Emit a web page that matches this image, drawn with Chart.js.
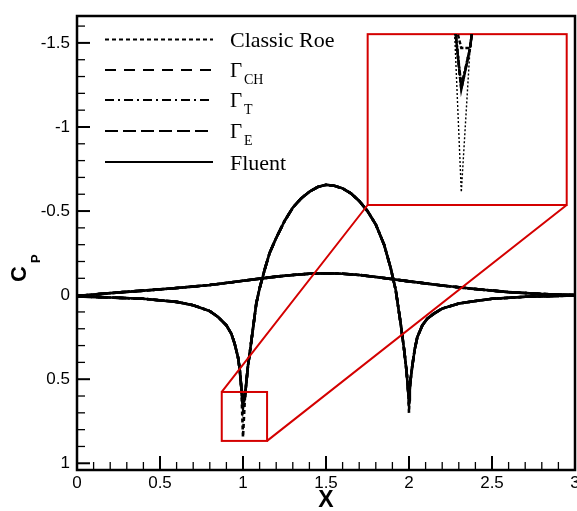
<!DOCTYPE html>
<html>
<head>
<meta charset="utf-8">
<script src="https://cdn.jsdelivr.net/npm/chart.js@4.4.0/dist/chart.umd.min.js"></script>
<style>
  html, body { margin: 0; padding: 0; background: #fff; }
  #wrap { position: relative; width: 577px; height: 511px; }
  #inset { position: absolute; }
</style>
</head>
<body>
<div id="wrap">
  <canvas id="cpChart" width="577" height="511"></canvas>
  <canvas id="inset"></canvas>
</div>
<script>
// schemes (legend name + subscript)
const schemes = ['Classic Roe', 'Γ', 'Γ', 'Γ', 'Fluent'];
const schemeSubs = ['', 'CH', 'T', 'E', ''];

// Cp on the lower curve (small suction bump)
const bumpX = [0, 0.2, 0.4, 0.6, 0.8, 1.0, 1.1, 1.2, 1.3, 1.4, 1.5, 1.6, 1.7, 1.8, 1.9, 2.0, 2.2, 2.4, 2.6, 2.8, 3.0];
const bumpCp = [0.005, -0.012, -0.027, -0.042, -0.06, -0.085, -0.098, -0.11, -0.12, -0.127, -0.13, -0.127, -0.12, -0.108, -0.095, -0.082, -0.057, -0.036, -0.018, -0.007, 0.0];

// Cp on the wall curve
const wallX = [0, 0.2, 0.4, 0.6, 0.7, 0.8, 0.85, 0.9, 0.93, 0.95,
  0.97, 0.98, 0.99, 1.0, 1.012, 1.02, 1.03, 1.04, 1.06, 1.08,
  1.1, 1.13, 1.16, 1.2, 1.25, 1.3, 1.35, 1.4, 1.45, 1.5,
  1.55, 1.6, 1.65, 1.7, 1.75, 1.8, 1.85, 1.89, 1.92, 1.95,
  1.97, 1.985, 1.995, 2.0, 2.005, 2.01, 2.02, 2.035, 2.05, 2.08,
  2.11, 2.15, 2.2, 2.3, 2.4, 2.5, 2.7, 3.0];
const wallCp = [0.008, 0.014, 0.022, 0.04, 0.06, 0.095, 0.13, 0.18, 0.23, 0.29,
  0.37, 0.44, 0.55, 0.67, 0.6, 0.52, 0.42, 0.35, 0.2, 0.05,
  -0.04, -0.15, -0.25, -0.34, -0.44, -0.52, -0.575, -0.615, -0.643, -0.656,
  -0.65, -0.635, -0.605, -0.56, -0.5, -0.42, -0.3, -0.16, -0.03, 0.17,
  0.32, 0.45, 0.57, 0.65, 0.55, 0.5, 0.42, 0.32, 0.25, 0.18,
  0.14, 0.11, 0.08, 0.05, 0.035, 0.022, 0.01, 0.002];

// stagnation spikes at x = 1 and x = 2, one value per scheme
const spikeX = [1.0, 2.0];
const spikeCp1 = [0.845, 0.67, 0.665, 0.67, 0.6];
const spikeCp2 = [0.70, 0.65, 0.65, 0.65, 0.62];

// ticks
const xTicks = [0, 0.5, 1, 1.5, 2, 2.5, 3];
const yTicks = [-1.5, -1, -0.5, 0, 0.5, 1];

// zoom: small window around x = 1 and where it is enlarged (xMin, xMax, cpMin, cpMax)
const zoomFrom = [0.872, 1.145, 0.576, 0.867];
const zoomTo = [1.751, 2.950, -1.552, -0.536];

const dashes = [[4, 3], [11, 8], [9, 4, 2, 4], [13, 5], []];
const RED = '#d40000';

function wallFor(i) {
    return wallX.map((x, k) => {
        let y = wallCp[k];
        if (x === spikeX[0]) y = spikeCp1[i];
        if (x === spikeX[1]) y = spikeCp2[i];
        return { x: x, y: y };
    });
}

function buildDatasets(widths, dashList) {
    const sets = [];
    schemes.forEach((name, i) => {
        const common = {
            borderColor: '#000',
            borderWidth: widths[i],
            borderDash: dashList[i],
            pointRadius: 0,
            tension: 0,
            fill: false
        };
        sets.push(Object.assign({ label: name + schemeSubs[i], data: bumpX.map((x, k) => ({ x: x, y: bumpCp[k] })) }, common));
        sets.push(Object.assign({ label: name + schemeSubs[i], data: wallFor(i) }, common));
    });
    return sets;
}

const isMajor = v => Math.abs(v * 2 - Math.round(v * 2)) < 1e-9;

// frame, ticks, legend, Cp label and zoom boxes
const decor = {
    id: 'decor',
    afterDraw(chart) {
        const ctx = chart.ctx;
        const { left, right, top, bottom } = chart.chartArea;
        const xs = chart.scales.x, ys = chart.scales.y;
        ctx.save();
        ctx.strokeStyle = '#000';

        // minor + major ticks, pointing inward
        for (let k = -16; k <= 10; k++) {
            const v = k / 10;
            const y = ys.getPixelForValue(v);
            ctx.lineWidth = isMajor(v) ? 2 : 1.3;
            ctx.beginPath();
            ctx.moveTo(left, y);
            ctx.lineTo(left + (isMajor(v) ? 13 : 8), y);
            ctx.stroke();
        }
        for (let k = 0; k <= 30; k++) {
            const v = k / 10;
            const x = xs.getPixelForValue(v);
            ctx.lineWidth = isMajor(v) ? 2 : 1.3;
            ctx.beginPath();
            ctx.moveTo(x, bottom);
            ctx.lineTo(x, bottom - (isMajor(v) ? 14 : 8));
            ctx.stroke();
        }

        // frame
        ctx.lineWidth = 2.5;
        ctx.strokeRect(left, top, right - left, bottom - top);

        // legend
        const rowsY = [23.5, 54, 84, 115, 146];
        schemes.forEach((name, i) => {
            const y = top + rowsY[i];
            ctx.lineWidth = 2;
            ctx.setLineDash(dashes[i]);
            ctx.beginPath();
            ctx.moveTo(left + 28, y);
            ctx.lineTo(left + 136, y);
            ctx.stroke();
            ctx.setLineDash([]);
            ctx.fillStyle = '#000';
            ctx.textAlign = 'left';
            ctx.textBaseline = 'alphabetic';
            if (schemeSubs[i]) {
                ctx.font = '21px "Liberation Serif"';
                ctx.fillText(name, left + 153, y + 6.5);
                ctx.font = '14px "Liberation Serif"';
                ctx.fillText(schemeSubs[i], left + 167, y + 14);
            } else {
                ctx.font = '22px "Liberation Serif"';
                ctx.fillText(name, left + 153, y + 7.5);
            }
        });

        // C_P axis title
        ctx.translate(26, 282);
        ctx.rotate(-Math.PI / 2);
        ctx.font = 'bold 22px "Liberation Sans"';
        ctx.fillText('C', 0, 0);
        ctx.font = 'bold 13px "Liberation Sans"';
        ctx.fillText('P', 19, 14);
        ctx.setTransform(1, 0, 0, 1, 0, 0);

        // zoom boxes and connectors
        const sL = xs.getPixelForValue(zoomFrom[0]), sR = xs.getPixelForValue(zoomFrom[1]);
        const sT = ys.getPixelForValue(zoomFrom[2]), sB = ys.getPixelForValue(zoomFrom[3]);
        const bL = xs.getPixelForValue(zoomTo[0]), bR = xs.getPixelForValue(zoomTo[1]);
        const bT = ys.getPixelForValue(zoomTo[2]), bB = ys.getPixelForValue(zoomTo[3]);
        ctx.strokeStyle = RED;
        ctx.lineWidth = 2;
        ctx.strokeRect(sL, sT, sR - sL, sB - sT);
        ctx.strokeRect(bL, bT, bR - bL, bB - bT);
        ctx.beginPath();
        ctx.moveTo(sL, sT); ctx.lineTo(bL, bB);
        ctx.moveTo(sR, sB); ctx.lineTo(bR, bB);
        ctx.stroke();
        ctx.restore();
    }
};

Chart.defaults.font.family = 'Liberation Sans';
Chart.defaults.color = '#000';

const ctx1 = document.getElementById('cpChart').getContext('2d');
const cpChart = new Chart(ctx1, {
    type: 'line',
    data: { datasets: buildDatasets([2.6, 2.6, 2.6, 2.6, 2.6], dashes) },
    options: {
        responsive: false,
        animation: false,
        layout: { padding: { top: 16, right: 2, left: 0, bottom: 0 } },
        scales: {
            x: {
                type: 'linear',
                min: 0,
                max: 3,
                grid: { display: false, drawTicks: false },
                border: { display: false },
                afterBuildTicks: s => { s.ticks = xTicks.map(v => ({ value: v })); },
                afterFit: s => { s.height = 41; s.paddingLeft = 0; s.paddingRight = 0; },
                ticks: {
                    padding: 3,
                    maxRotation: 0,
                    autoSkip: false,
                    font: { size: 17 },
                    callback: v => String(v)
                },
                title: {
                    display: true,
                    text: 'X',
                    padding: { top: 0, bottom: -3 },
                    font: { size: 23, weight: 'bold' }
                }
            },
            y: {
                type: 'linear',
                reverse: true,
                min: -1.66,
                max: 1.04,
                grid: { display: false, drawTicks: false },
                border: { display: false },
                afterBuildTicks: s => { s.ticks = yTicks.map(v => ({ value: v })); },
                afterFit: s => { s.width = 77; s.paddingTop = 0; s.paddingBottom = 0; },
                ticks: {
                    padding: 7,
                    font: { size: 17 },
                    callback: v => String(v)
                }
            }
        },
        plugins: {
            legend: { display: false },
            tooltip: { enabled: false }
        }
    },
    plugins: [decor]
});

// enlarged view drawn by a second chart over the big red box
const xs = cpChart.scales.x, ys = cpChart.scales.y;
const boxL = xs.getPixelForValue(zoomTo[0]), boxR = xs.getPixelForValue(zoomTo[1]);
const boxT = ys.getPixelForValue(zoomTo[2]), boxB = ys.getPixelForValue(zoomTo[3]);
const insetCanvas = document.getElementById('inset');
insetCanvas.style.left = boxL + 'px';
insetCanvas.style.top = boxT + 'px';
insetCanvas.width = Math.round(boxR - boxL);
insetCanvas.height = Math.round(boxB - boxT);

new Chart(insetCanvas.getContext('2d'), {
    type: 'line',
    data: { datasets: buildDatasets([1.4, 2.5, 2.5, 2.5, 2.5], [[2, 2], [5, 2], [5, 2, 2, 2], [6, 2], [4, 2]]) },
    options: {
        responsive: false,
        animation: false,
        layout: { padding: 0 },
        scales: {
            x: { type: 'linear', display: false, min: zoomFrom[0], max: zoomFrom[1] },
            y: { type: 'linear', display: false, reverse: true, min: zoomFrom[2], max: zoomFrom[3] }
        },
        plugins: {
            legend: { display: false },
            tooltip: { enabled: false }
        }
    }
});
</script>
</body>
</html>
